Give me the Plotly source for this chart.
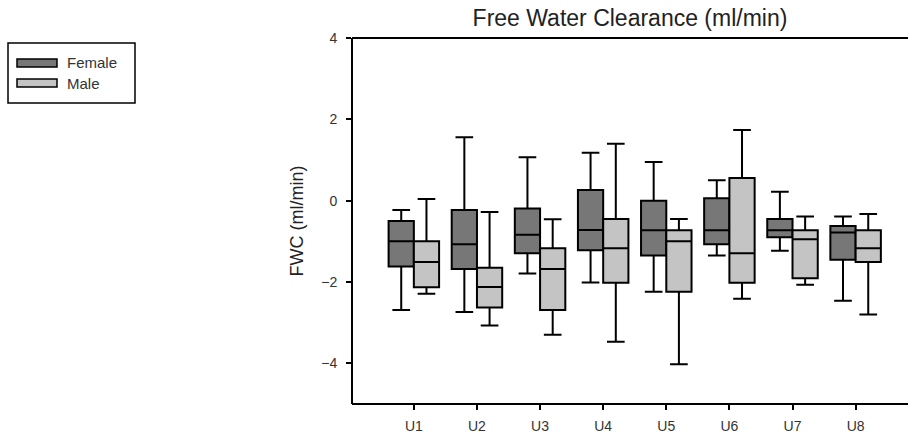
import plotly.graph_objects as go

categories = ["U1", "U2", "U3", "U4", "U5", "U6", "U7", "U8"]

female_low = [-2.69, -2.74, -1.79, -2.01, -2.24, -1.35, -1.23, -2.46]
female_q1 = [-1.62, -1.68, -1.29, -1.22, -1.35, -1.07, -0.90, -1.45]
female_med = [-1.00, -1.07, -0.84, -0.72, -0.73, -0.73, -0.73, -0.78]
female_q3 = [-0.50, -0.23, -0.19, 0.26, 0.00, 0.06, -0.45, -0.62]
female_high = [-0.23, 1.56, 1.07, 1.18, 0.95, 0.50, 0.22, -0.39]

male_low = [-2.29, -3.07, -3.30, -3.47, -4.02, -2.41, -2.07, -2.80]
male_q1 = [-2.13, -2.63, -2.69, -2.02, -2.24, -2.02, -1.91, -1.51]
male_med = [-1.51, -2.12, -1.68, -1.17, -1.00, -1.29, -0.95, -1.17]
male_q3 = [-1.00, -1.65, -1.17, -0.45, -0.73, 0.56, -0.73, -0.73]
male_high = [0.04, -0.28, -0.46, 1.40, -0.45, 1.74, -0.39, -0.33]

series_names = ["Female", "Male"]
y_tick_vals = [-4, -2, 0, 2, 4]

FEMALE_COLOR = "#777777"
MALE_COLOR = "#c4c4c4"
FONT = "Liberation Sans, Arial, sans-serif"

fig = go.Figure()
for name, color, lo, q1, med, q3, hi in [
    (series_names[0], FEMALE_COLOR, female_low, female_q1, female_med, female_q3, female_high),
    (series_names[1], MALE_COLOR, male_low, male_q1, male_med, male_q3, male_high),
]:
    fig.add_trace(go.Box(
        name=name, x=categories, q1=q1, median=med, q3=q3,
        lowerfence=lo, upperfence=hi,
        fillcolor=color, line=dict(color="black", width=2),
        whiskerwidth=0.7, showlegend=False,
    ))

# plot area in pixels: x 352..908, y 38..404
L, R, T, B = 352, 908, 38, 404
def px(x):
    return (x - L) / (R - L)
def py(y):
    return (B - y) / (B - T)

shapes = [
    # mask the right plot edge (the reference is cropped there)
    dict(type="rect", xref="paper", yref="paper", x0=px(903), x1=px(912), y0=-0.01, y1=1.01,
         line=dict(width=0), fillcolor="white", layer="above"),
    # frame lines: top, bottom, left
    dict(type="line", xref="paper", yref="paper", x0=0, x1=1, y0=1, y1=1,
         line=dict(color="black", width=2)),
    dict(type="line", xref="paper", yref="paper", x0=0, x1=1, y0=0, y1=0,
         line=dict(color="black", width=2)),
    dict(type="line", xref="paper", yref="paper", x0=0, x1=0, y0=0, y1=1,
         line=dict(color="black", width=2)),
    # legend box
    dict(type="rect", xref="paper", yref="paper", x0=px(8), x1=px(135), y0=py(43), y1=py(103),
         line=dict(color="black", width=1.5), fillcolor="white"),
    dict(type="rect", xref="paper", yref="paper", x0=px(17), x1=px(57), y0=py(59), y1=py(67),
         line=dict(color="black", width=1.5), fillcolor=FEMALE_COLOR),
    dict(type="rect", xref="paper", yref="paper", x0=px(17), x1=px(57), y0=py(79), y1=py(87),
         line=dict(color="black", width=1.5), fillcolor=MALE_COLOR),
]
annotations = [
    dict(text=series_names[0], xref="paper", yref="paper", x=px(65), y=py(63), xanchor="left",
         yanchor="middle", showarrow=False, font=dict(size=15, color="#333333", family=FONT)),
    dict(text=series_names[1], xref="paper", yref="paper", x=px(65), y=py(83), xanchor="left",
         yanchor="middle", showarrow=False, font=dict(size=15, color="#333333", family=FONT)),
]

fig.update_layout(
    width=908, height=439,
    margin=dict(l=L, r=908 - R, t=T, b=439 - B, pad=0),
    paper_bgcolor="white", plot_bgcolor="white",
    boxmode="group", boxgap=0.2, boxgroupgap=0,
    font=dict(family=FONT, color="#222222", size=14),
    title=dict(text="Free Water Clearance (ml/min)", x=px(630), xref="paper", xanchor="center",
               y=1 - 17.5 / 439, yanchor="middle", font=dict(size=23, color="#222222", family=FONT)),
    shapes=shapes, annotations=annotations,
    showlegend=False,
)
fig.update_xaxes(
    type="category", range=[-0.98, 7.83],
    showline=False, mirror=False,
    ticks="outside", ticklen=5, tickwidth=2, tickcolor="black", ticklabelstandoff=4,
    showgrid=False, zeroline=False, tickfont=dict(size=14, color="#333333"),
)
fig.update_yaxes(
    range=[-5, 4], tickvals=y_tick_vals,
    showline=False, mirror=False,
    ticks="outside", ticklen=5, tickwidth=2, tickcolor="black", ticklabelstandoff=6,
    showgrid=False, zeroline=False, tickfont=dict(size=14, color="#333333"),
    title=dict(text="FWC (ml/min)", font=dict(size=18, color="#222222"), standoff=12),
)

fig.write_html("out.html", config={"displayModeBar": False},
               post_script="document.body.style.margin='0';")
